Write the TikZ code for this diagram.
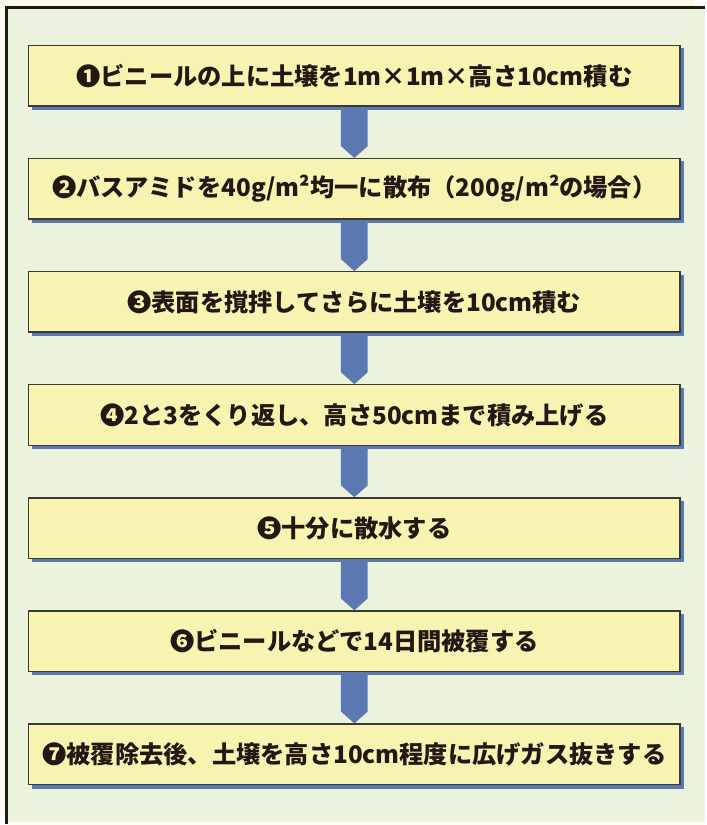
\documentclass[tikz,border=0pt]{standalone}
\usepackage{fontspec}
\setmainfont{Noto Sans CJK JP}
\usetikzlibrary{calc}
\definecolor{bgc}{HTML}{ECF3DC}
\definecolor{boxc}{HTML}{F8F3B1}
\definecolor{bluec}{HTML}{5B78B2}
\definecolor{edgec}{HTML}{3B3A30}
\definecolor{framec}{HTML}{231815}
\definecolor{creamc}{HTML}{FCF8EA}
\definecolor{textc}{HTML}{231815}
\pgfdeclarelayer{back}
\pgfdeclarelayer{bg}
\pgfsetlayers{back,bg,main}
\begin{document}
\begin{tikzpicture}[x=1pt,y=-1pt,
  stepbox/.style={draw=edgec,line width=1.3pt,fill=boxc,minimum width=658pt,
    minimum height=61pt,inner sep=0pt,text=textc,
    font=\fontsize{24.5}{28}\selectfont\bfseries},
  shadowc/.style={fill=bluec},
  flowarrow/.style={fill=bluec}]
\begin{pgfonlayer}{back}
\fill[creamc] (0,0) rectangle (702,825);
\fill[bgc] (6.5,8) rectangle (712,830);
\draw[framec,line width=3pt] (6.5,832) -- (6.5,8) -- (712,8);
\end{pgfonlayer}
\useasboundingbox (0,0) rectangle (702,825);

\node[stepbox] (b1) at (358,76.5) {❶ビニールの上に土壌を1m×1m×高さ10cm積む};
\node[stepbox] (b2) at (358,190.75) {❷バスアミドを40g/m²均一に散布（200g/m²の場合）};
\node[stepbox] (b3) at (358,305) {❸表面を撹拌してさらに土壌を10cm積む};
\node[stepbox] (b4) at (358,419.25) {❹2と3をくり返し、高さ50cmまで積み上げる};
\node[stepbox] (b5) at (358,533.5) {❺十分に散水する};
\node[stepbox] (b6) at (358,647.75) {❻ビニールなどで14日間被覆する};
\node[stepbox] (b7) at (358,762) {❼被覆除去後、土壌を高さ10cm程度に広げガス抜きする};

\begin{pgfonlayer}{bg}
\foreach \i in {1,...,7}{
  \fill[shadowc] ($(b\i.north west)+(3.5,3.5)$) rectangle ($(b\i.south east)+(3.5,3.5)$);
}
\foreach \i/\j in {1/2,2/3,3/4,4/5,5/6,6/7}{
  \fill[flowarrow] ($(b\i.south)+(-13.5,0)$) -- ($(b\i.south)+(13.5,0)$)
    -- ($(b\j.north)+(13.5,-12)$) -- (b\j.north) -- ($(b\j.north)+(-13.5,-12)$) -- cycle;
}
\end{pgfonlayer}
\end{tikzpicture}
\end{document}
